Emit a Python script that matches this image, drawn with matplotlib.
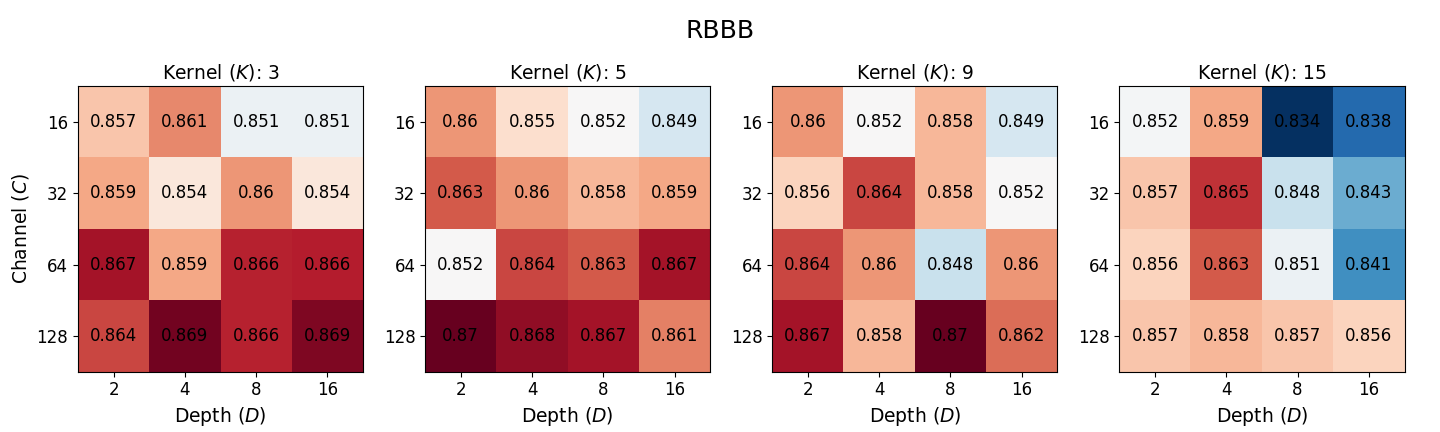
import numpy as np
import matplotlib
matplotlib.use("Agg")
import matplotlib.pyplot as plt

depths = [2, 4, 8, 16]
channels = [16, 32, 64, 128]
kernels = [3, 5, 9, 15]

# accuracy per kernel, rows = channel, cols = depth
acc_k3 = [[0.857, 0.8606, 0.851, 0.851],
          [0.859, 0.854, 0.860, 0.854],
          [0.867, 0.859, 0.8658, 0.8662],
          [0.864, 0.8693, 0.8658, 0.8688]]
acc_k5 = [[0.860, 0.855, 0.852, 0.849],
          [0.863, 0.860, 0.858, 0.859],
          [0.852, 0.864, 0.863, 0.867],
          [0.870, 0.868, 0.867, 0.861]]
acc_k9 = [[0.860, 0.852, 0.858, 0.849],
          [0.856, 0.864, 0.858, 0.852],
          [0.864, 0.860, 0.848, 0.860],
          [0.867, 0.858, 0.870, 0.862]]
acc_k15 = [[0.8517, 0.859, 0.834, 0.838],
           [0.857, 0.865, 0.848, 0.843],
           [0.856, 0.863, 0.851, 0.841],
           [0.857, 0.858, 0.857, 0.856]]

all_acc = [acc_k3, acc_k5, acc_k9, acc_k15]
vmin = min(np.min(a) for a in all_acc)
vmax = max(np.max(a) for a in all_acc)

fig, axs = plt.subplots(1, 4, figsize=(14.4, 4.32), dpi=100)
fig.subplots_adjust(left=0.0535, right=0.976, bottom=0.14, top=0.80, wspace=0.21)

for ax, k, acc in zip(axs, kernels, all_acc):
    acc = np.array(acc)
    ax.imshow(acc, cmap="RdBu_r", vmin=vmin, vmax=vmax)
    for i in range(len(channels)):
        for j in range(len(depths)):
            ax.text(j, i, str(round(acc[i, j], 3)), ha="center", va="center",
                    fontsize=12, color="black")
    ax.set_xticks(range(len(depths)))
    ax.set_xticklabels(depths, fontsize=12)
    ax.set_yticks(range(len(channels)))
    ax.set_yticklabels(channels, fontsize=12)
    ax.set_xlabel("Depth ($D$)", fontsize=13.5)
    ax.set_title(f"Kernel ($K$): {k}", fontsize=13.5)

axs[0].set_ylabel("Channel ($C$)", fontsize=13.5)
fig.suptitle("RBBB", fontsize=18, y=0.955)

plt.savefig("out.png", dpi=100)
